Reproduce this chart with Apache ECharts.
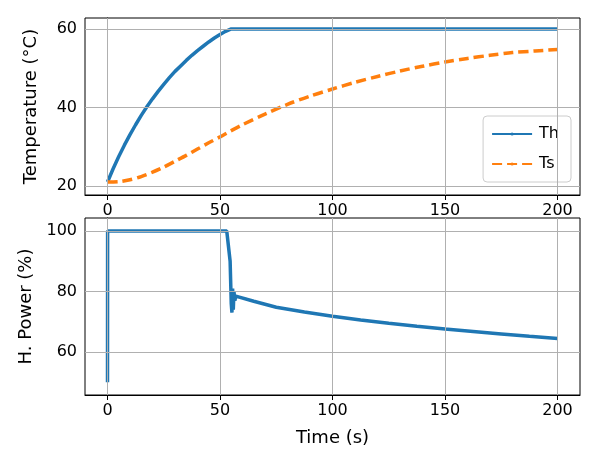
<!DOCTYPE html><html><head><meta charset="utf-8"><script src="https://cdn.jsdelivr.net/npm/echarts@6/dist/echarts.min.js"></script></head><body style="margin:0"><div id="c" style="width:589px;height:458px"></div><script>
const thT=[0,2.5,5,7.5,10,12.5,15,17.5,20,22.5,25,27.5,30,32.5,35,37.5,40,42.5,45,47.5,50,52.5,55,100,150,200];
const thV=[21,24.4,27.5,30.4,33.1,35.6,38,40.2,42.2,44.1,45.9,47.6,49.2,50.6,52,53.3,54.5,55.6,56.7,57.7,58.6,59.4,60,60,60,60];
const tsT=[0,5,10,15,20,25,30,35,40,45,50,55,60,70,80,90,100,110,120,130,140,150,160,170,180,190,200];
const tsV=[21,21.1,21.6,22.4,23.5,24.8,26.3,27.8,29.4,31,32.5,34.1,35.6,38.3,40.8,42.9,44.7,46.4,47.9,49.3,50.5,51.6,52.5,53.3,54,54.4,54.8];
const pT=[0,0.05,1,53,53.8,54.5,55,55.3,55.6,55.9,56.2,56.6,57,65,75,87.5,100,112.5,125,137.5,150,162.5,175,187.5,200];
const pV=[50,100,100,100,99.5,90,76,73,81,74,80,77,78.5,76.8,74.8,73.2,71.8,70.6,69.5,68.5,67.6,66.8,66,65.2,64.5];
const z=(a,b)=>a.map((x,i)=>[x,b[i]]);
const f="DejaVu Sans";
const nm={fontSize:18,fontFamily:f,color:'#000'};
const ax={type:'value',axisLine:{lineStyle:{color:'#000'}},axisTick:{lineStyle:{color:'#000'},length:5},axisLabel:{color:'#000',fontSize:16,fontFamily:f},splitLine:{show:false}};
const grid={show:true,borderColor:'#000',borderWidth:1,left:85,right:9};
const xt=[0,50,100,150,200];
echarts.init(document.getElementById('c')).setOption({animation:false,
grid:[{...grid,top:18,height:177},{...grid,top:218,height:177}],
xAxis:[{...ax,gridIndex:0,min:-10,max:210,axisLabel:{...ax.axisLabel,customValues:xt},axisTick:{...ax.axisTick,customValues:xt}},
{...ax,gridIndex:1,min:-10,max:210,name:'Time (s)',nameLocation:'middle',nameGap:34,nameTextStyle:nm,axisLabel:{...ax.axisLabel,customValues:xt},axisTick:{...ax.axisTick,customValues:xt}}],
yAxis:[{...ax,gridIndex:0,min:17.7,max:62.8,name:'Temperature (°C)',nameLocation:'middle',nameGap:45,nameTextStyle:nm,axisLabel:{...ax.axisLabel,customValues:[20,40,60]},axisTick:{...ax.axisTick,customValues:[20,40,60]}},
{...ax,gridIndex:1,min:45.8,max:104.3,name:'H. Power (%)',nameLocation:'middle',nameGap:45,nameTextStyle:nm,axisLabel:{...ax.axisLabel,customValues:[60,80,100]},axisTick:{...ax.axisTick,customValues:[60,80,100]}}],
legend:{right:18,top:116,orient:'vertical',backgroundColor:'#fff',borderColor:'#ccc',borderWidth:1,borderRadius:4,padding:[10,12,10,8],itemGap:14,itemWidth:40,itemHeight:4,textStyle:{fontSize:16,fontFamily:f,color:'#000',padding:[0,6,0,2]},data:['Th','Ts']},
series:[
{name:'Th',type:'line',xAxisIndex:0,yAxisIndex:0,data:z(thT,thV),symbol:'none',lineStyle:{width:3.5,color:'#1f77b4'},itemStyle:{color:'#1f77b4'},z:3},
{name:'Ts',type:'line',xAxisIndex:0,yAxisIndex:0,data:z(tsT,tsV),smooth:0.3,symbol:'none',lineStyle:{width:3.5,type:[10,5],color:'#ff7f0e'},itemStyle:{color:'#ff7f0e'},z:3},
{name:'P',type:'line',xAxisIndex:1,yAxisIndex:1,data:z(pT,pV),symbol:'none',lineStyle:{width:3.5,color:'#1f77b4'},z:3},
...[0,1].map(g=>({type:'line',xAxisIndex:g,yAxisIndex:g,silent:true,data:[],z:1,markLine:{silent:true,symbol:'none',label:{show:false},lineStyle:{color:'#b0b0b0',type:'solid',width:1},data:xt.map(v=>({xAxis:v})).concat((g?[60,80,100]:[20,40,60]).map(v=>({yAxis:v})))}}))
]});
</script></body></html>
